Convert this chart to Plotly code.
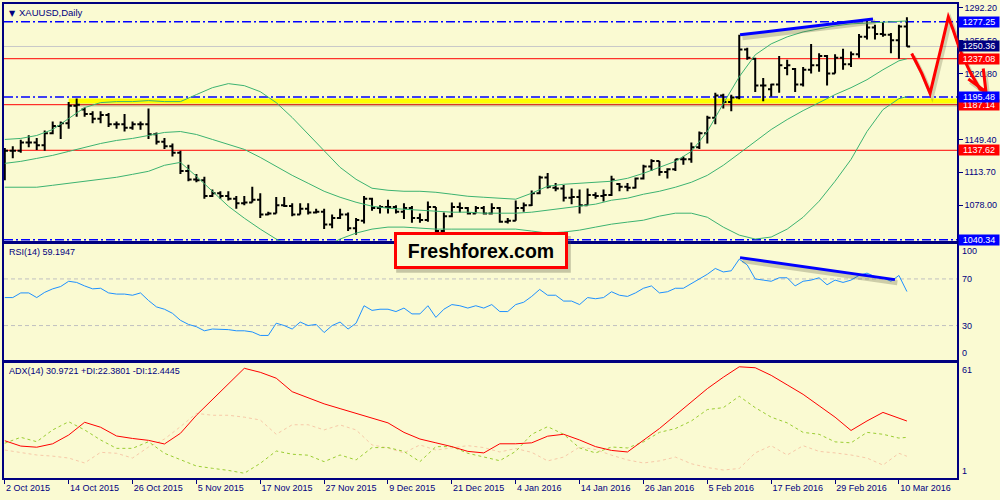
import plotly.graph_objects as go

BG = "#FAFAD2"
NAVY = "#000080"
GREEN = "#3CB371"
FONT = "Liberation Sans"

# ---- data (XAUUSD daily, 2 Oct 2015 .. 11 Mar 2016) ----
X_LABELS = ["2 Oct 2015", "14 Oct 2015", "26 Oct 2015", "5 Nov 2015", "17 Nov 2015",
            "27 Nov 2015", "9 Dec 2015", "21 Dec 2015", "4 Jan 2016", "14 Jan 2016",
            "26 Jan 2016", "5 Feb 2016", "17 Feb 2016", "29 Feb 2016", "10 Mar 2016"]
TICK_BARS = [0, 8, 16, 24, 32, 40, 48, 56, 64, 72, 80, 88, 96, 104, 112]

OPEN = [1114, 1137, 1137, 1146, 1146, 1143, 1156, 1164, 1167, 1186,
        1182, 1177, 1172, 1176, 1166, 1166, 1162, 1166, 1166, 1155,
        1147, 1142, 1135, 1115, 1106, 1105, 1088, 1091, 1088, 1085,
        1080, 1081, 1084, 1068, 1069, 1078, 1077, 1068, 1074, 1070,
        1071, 1057, 1064, 1068, 1053, 1061, 1085, 1075, 1076, 1076,
        1071, 1075, 1064, 1062, 1076, 1050, 1066, 1076, 1075, 1069,
        1075, 1069, 1075, 1060, 1061, 1075, 1078, 1091, 1108, 1097,
        1096, 1086, 1087, 1078, 1089, 1088, 1089, 1101, 1098, 1097,
        1107, 1120, 1126, 1114, 1117, 1128, 1128, 1141, 1156, 1173,
        1197, 1190, 1195, 1247, 1237, 1208, 1204, 1209, 1227, 1226,
        1209, 1225, 1230, 1240, 1221, 1238, 1231, 1242, 1261, 1271,
        1264, 1263, 1257, 1272]
HIGH = [1140, 1142, 1149, 1154, 1151, 1159, 1169, 1169, 1190, 1194,
        1184, 1180, 1180, 1178, 1169, 1177, 1169, 1169, 1183, 1157,
        1151, 1145, 1137, 1122, 1112, 1109, 1095, 1093, 1093, 1088,
        1088, 1098, 1091, 1071, 1087, 1087, 1080, 1080, 1080, 1074,
        1074, 1068, 1074, 1070, 1064, 1088, 1086, 1078, 1084, 1078,
        1080, 1077, 1069, 1082, 1076, 1070, 1081, 1081, 1076, 1077,
        1077, 1080, 1076, 1064, 1083, 1081, 1094, 1110, 1113, 1102,
        1100, 1096, 1095, 1096, 1092, 1095, 1110, 1102, 1102, 1108,
        1122, 1128, 1126, 1118, 1128, 1131, 1146, 1158, 1175, 1200,
        1199, 1198, 1263, 1249, 1238, 1216, 1210, 1240, 1236, 1227,
        1228, 1253, 1243, 1241, 1242, 1248, 1245, 1264, 1280, 1274,
        1277, 1265, 1274, 1282]
LOW = [1105, 1129, 1135, 1141, 1138, 1137, 1155, 1150, 1161, 1174,
       1174, 1167, 1167, 1163, 1161, 1158, 1160, 1160, 1150, 1144,
       1139, 1131, 1112, 1104, 1103, 1085, 1087, 1085, 1083, 1074,
       1078, 1081, 1064, 1067, 1069, 1076, 1066, 1068, 1068, 1069,
       1052, 1053, 1063, 1050, 1046, 1058, 1072, 1069, 1069, 1069,
       1063, 1059, 1059, 1060, 1048, 1047, 1065, 1070, 1068, 1069,
       1068, 1068, 1059, 1058, 1061, 1071, 1077, 1090, 1096, 1093,
       1082, 1079, 1069, 1078, 1085, 1082, 1088, 1093, 1093, 1096,
       1106, 1115, 1110, 1107, 1115, 1122, 1124, 1139, 1145, 1166,
       1183, 1180, 1193, 1236, 1201, 1191, 1196, 1200, 1219, 1201,
       1207, 1221, 1223, 1208, 1221, 1225, 1228, 1238, 1258, 1258,
       1261, 1243, 1237, 1250]
CLOSE = [1137, 1137, 1146, 1146, 1143, 1156, 1164, 1167, 1186, 1187,
         1177, 1172, 1176, 1166, 1166, 1162, 1166, 1166, 1155, 1147,
         1142, 1135, 1115, 1106, 1105, 1088, 1091, 1088, 1085, 1080,
         1081, 1084, 1068, 1069, 1078, 1077, 1068, 1074, 1070, 1071,
         1057, 1064, 1068, 1053, 1062, 1085, 1075, 1076, 1076, 1071,
         1075, 1064, 1062, 1076, 1050, 1066, 1076, 1075, 1069, 1075,
         1069, 1075, 1060, 1061, 1075, 1078, 1091, 1108, 1098, 1096,
         1086, 1087, 1078, 1089, 1088, 1089, 1106, 1098, 1097, 1107,
         1120, 1126, 1114, 1117, 1128, 1128, 1141, 1156, 1173, 1197,
         1190, 1195, 1247, 1238, 1208, 1208, 1209, 1230, 1230, 1209,
         1225, 1230, 1240, 1221, 1238, 1231, 1242, 1261, 1271, 1264,
         1263, 1257, 1272, 1250.36]

# indicator lines sampled every second bar (last bar added)
IND_BARS = list(range(0, 113, 2)) + [113]
BB_UPPER = [1149.4, 1150.5, 1153.7, 1160.2, 1172.1, 1184.0, 1189.4, 1190.5, 1190.5, 1191.6,
            1190.5, 1190.5, 1198.1, 1205.6, 1210.0, 1207.8, 1201.3, 1189.4, 1173.2, 1154.8,
            1136.4, 1119.1, 1106.1, 1096.4, 1094.2, 1093.1, 1093.1, 1092.0, 1089.9, 1087.7,
            1086.6, 1085.5, 1084.5, 1091.0, 1098.6, 1100.7, 1101.8, 1102.9, 1104.0, 1107.2,
            1112.6, 1119.1, 1125.6, 1136.4, 1158.0, 1188.3, 1217.5, 1241.3, 1253.2, 1260.8,
            1266.2, 1269.5, 1272.7, 1274.9, 1276.0, 1277.0, 1278.1, 1278.1]
BB_MIDDLE = [1123.4, 1125.6, 1128.8, 1132.1, 1136.4, 1140.7, 1145.0, 1148.3, 1150.5, 1153.7,
             1157.0, 1158.0, 1154.8, 1149.4, 1144.0, 1138.6, 1129.9, 1120.2, 1110.4, 1101.8,
             1093.1, 1086.6, 1081.2, 1076.9, 1074.7, 1073.6, 1072.6, 1071.5, 1070.4, 1070.4,
             1069.3, 1069.3, 1069.3, 1070.4, 1072.6, 1074.7, 1076.9, 1079.1, 1083.4, 1085.6,
             1089.9, 1093.1, 1097.5, 1102.9, 1110.4, 1121.3, 1134.2, 1147.2, 1160.2, 1171.0,
             1180.7, 1189.4, 1198.1, 1205.6, 1214.3, 1225.1, 1234.8, 1237.0]
BB_LOWER = [1097.5, 1097.5, 1097.5, 1099.6, 1101.8, 1104.0, 1106.1, 1108.3, 1111.5, 1114.8,
            1121.3, 1124.5, 1109.4, 1093.1, 1076.9, 1063.9, 1052.0, 1041.2, 1032.5, 1028.2,
            1032.5, 1041.2, 1047.7, 1052.0, 1054.2, 1054.2, 1053.2, 1052.0, 1052.0, 1052.0,
            1052.0, 1052.0, 1052.0, 1049.9, 1047.7, 1048.8, 1050.9, 1054.2, 1057.4, 1059.6,
            1061.7, 1066.1, 1069.3, 1069.3, 1064.9, 1054.2, 1045.5, 1041.2, 1043.4, 1052.0,
            1064.9, 1082.3, 1104.0, 1127.7, 1158.0, 1181.8, 1193.7, 1195.9]

RSI = [54, 54, 58, 58, 54, 58.5, 61.5, 63.5, 68, 67,
       64, 61.5, 62, 58, 57, 57, 56, 58, 51.5, 46,
       44, 40.5, 34.5, 31, 29, 25.5, 27, 27, 26.5, 25.5,
       25.5, 24.5, 21.5, 21.5, 32, 30, 27, 33, 30, 31,
       24, 30, 33, 27, 32, 47, 43, 44, 44, 42,
       45, 40, 40, 47, 37, 44, 48, 47, 45, 47,
       45, 48, 42, 42, 48, 50, 55, 61, 56, 56,
       51, 51, 48, 54, 53, 54, 59, 56, 55, 58,
       62, 64, 58, 59, 62, 62, 66, 70, 74, 79,
       76, 77, 87, 82, 70, 69, 68, 71, 71, 64,
       68, 69, 71, 65, 69, 67, 69, 73, 75, 72,
       71, 68, 73, 59.19]

ADX = [20.6, 17.8, 17.2, 19.0, 23.6, 30.3, 27.7, 23.1, 21.8, 20.8,
       18.9, 24.5, 34.0, 42.4, 50.5, 58.7, 56.6, 53.5, 46.4, 43.0,
       40.0, 37.5, 35.0, 32.5, 30.0, 25.0, 21.5, 19.5, 17.5, 15.0,
       14.2, 19.0, 19.0, 19.5, 23.0, 24.0, 21.0, 17.5, 15.5, 14.7,
       21.0, 27.0, 34.0, 41.0, 48.0, 54.0, 59.5, 59.0, 55.0, 50.0,
       45.0, 39.0, 33.0, 26.0, 31.0, 35.5, 32.5, 30.97]
PLUS_DI = [19.3, 22.4, 20.1, 26.3, 30.6, 26.3, 21.0, 16.6, 16.6, 20.1,
           14.0, 10.5, 7.3, 6.1, 5.0, 3.5, 8.7, 15.2, 13.5, 13.0,
           9.6, 13.1, 10.5, 17.0, 17.0, 15.0, 9.6, 17.5, 17.5, 14.0,
           12.0, 10.1, 15.0, 24.0, 28.0, 24.0, 16.8, 14.2, 17.3, 16.8,
           20.0, 25.0, 27.0, 31.0, 37.0, 38.0, 44.0, 38.0, 33.0, 30.0,
           25.0, 24.0, 20.0, 19.5, 25.0, 24.0, 22.0, 22.38]
MINUS_DI = [15.7, 14.5, 13.1, 12.5, 11.5, 8.9, 14.5, 14.0, 11.5, 17.3,
            21.5, 28.0, 35.0, 34.0, 34.0, 33.0, 31.5, 24.0, 29.0, 29.0,
            26.3, 28.9, 26.3, 18.4, 16.8, 14.2, 18.4, 15.7, 17.0, 18.0,
            17.0, 14.7, 16.5, 14.5, 10.0, 12.0, 17.3, 16.0, 13.0, 10.5,
            8.9, 10.0, 12.0, 8.5, 6.5, 5.2, 6.0, 14.2, 18.0, 13.1,
            18.0, 15.0, 14.2, 13.1, 11.5, 7.8, 14.0, 12.44]

PRICE_TICKS = [1292.20, 1256.50, 1220.80, 1149.40, 1113.70, 1078.00]
BLUE_LEVELS = [1277.25, 1195.48, 1040.34]
RED_LEVELS = [1237.08, 1187.14, 1137.62]
BID = 1250.36
LABEL_PRICE = [1040.34, 1137.62, 1187.14, 1195.48, 1237.08, 1250.36, 1277.25]
LABEL_BG = ["#0000FF", "#FF0000", "#FF0000", "#0000FF", "#FF0000", "#000080", "#0000FF"]
YELLOW_ZONE = (8, 1188.3, 1194.0)  # start bar, low, high

# hand drawn marks (bar, value)
TREND_PRICE = [(92.1, 1263.0), (108.75, 1280.3)]
TREND_RSI = [(92.1, 88.3), (111.5, 69.4)]
ARROW = [(113.6, 1242.7), (114.24, 1231.9), (114.86, 1221.1), (115.9, 1199.5), (116.5, 1221.1),
         (117.36, 1251.8), (118.19, 1282.4), (118.81, 1268.0), (119.65, 1246.4), (120.9, 1222.9),
         (122.15, 1204.2), (122.9, 1201.3)]
ARROW_HEAD = [(122.56, 1226.5), (122.9, 1201.3), (120.69, 1215.0)]

XR = [-0.1, 119.275]
YR = [1039.1, 1296.5]
BARS = list(range(len(CLOSE)))

fig = go.Figure()

# bollinger bands
for band in (BB_UPPER, BB_MIDDLE, BB_LOWER):
    fig.add_trace(go.Scatter(x=IND_BARS, y=band, mode="lines", xaxis="x", yaxis="y",
                             line=dict(color=GREEN, width=1), hoverinfo="skip"))

fig.add_trace(go.Ohlc(x=BARS, open=OPEN, high=HIGH, low=LOW, close=CLOSE,
                      xaxis="x", yaxis="y", tickwidth=0.4,
                      increasing=dict(line=dict(color="black", width=2)),
                      decreasing=dict(line=dict(color="black", width=2))))

# rsi
fig.add_trace(go.Scatter(x=BARS, y=RSI, mode="lines", xaxis="x2", yaxis="y2",
                         line=dict(color="#1E90FF", width=1)))

# adx
fig.add_trace(go.Scatter(x=IND_BARS, y=MINUS_DI, mode="lines", xaxis="x3", yaxis="y3",
                         line=dict(color="#F7C9A8", width=1, dash="dot")))
fig.add_trace(go.Scatter(x=IND_BARS, y=PLUS_DI, mode="lines", xaxis="x3", yaxis="y3",
                         line=dict(color="#9ACD32", width=1, dash="3px,3px")))
fig.add_trace(go.Scatter(x=IND_BARS, y=ADX, mode="lines", xaxis="x3", yaxis="y3",
                         line=dict(color="#FF0000", width=1)))

# trend lines with a soft drop shadow
for pts, ya, dy in ((TREND_PRICE, "y", -3.2), (TREND_RSI, "y2", -2.6)):
    xs = [p[0] for p in pts]
    ys = [p[1] for p in pts]
    fig.add_trace(go.Scatter(x=[v + 0.3 for v in xs], y=[v + dy for v in ys], mode="lines",
                             xaxis=ya.replace("y", "x"), yaxis=ya,
                             line=dict(color="rgba(90,90,60,0.28)", width=5)))
    fig.add_trace(go.Scatter(x=xs, y=ys, mode="lines", xaxis=ya.replace("y", "x"), yaxis=ya,
                             line=dict(color="#0000FF", width=3)))

shapes = []
# yellow support zone + shadow
shapes.append(dict(type="rect", xref="x", yref="y", x0=YELLOW_ZONE[0] + 0.3, x1=XR[1],
                   y0=YELLOW_ZONE[1] - 3.5, y1=YELLOW_ZONE[1], fillcolor="rgba(80,80,40,0.22)",
                   line=dict(width=0), layer="below"))
shapes.append(dict(type="rect", xref="x", yref="y", x0=YELLOW_ZONE[0], x1=XR[1],
                   y0=YELLOW_ZONE[1], y1=YELLOW_ZONE[2], fillcolor="#FFFF00",
                   line=dict(width=0), layer="below"))
shapes.append(dict(type="line", xref="x domain", yref="y", x0=0, x1=1, y0=BID, y1=BID,
                   line=dict(color="#C8C8C8", width=1), layer="below"))
for lv in RED_LEVELS:
    shapes.append(dict(type="line", xref="x domain", yref="y", x0=0, x1=1, y0=lv, y1=lv,
                       line=dict(color="#FF0000", width=1), layer="below"))
for lv in BLUE_LEVELS:
    shapes.append(dict(type="line", xref="x domain", yref="y", x0=0, x1=1, y0=lv, y1=lv,
                       line=dict(color="#0000FF", width=1.5, dash="9px,3px,2px,3px"), layer="below"))
for lv in (70, 30):
    shapes.append(dict(type="line", xref="x2 domain", yref="y2", x0=0, x1=1, y0=lv, y1=lv,
                       line=dict(color="#C0C0C0", width=1, dash="4px,3px"), layer="below"))


def to_paper(pts, dx=0.0, dy=0.0):
    out = []
    for b, p in pts:
        px = (b - XR[0]) / (XR[1] - XR[0]) + dx
        py = 0.5 + 0.5 * (p - YR[0]) / (YR[1] - YR[0]) + dy
        out.append(f"{px:.5f},{py:.5f}")
    return "M " + " L ".join(out)


# red freehand arrow (runs over the price scale, so paper refs)
for dx, dy, col, w in ((2 / 955, -3 / 476, "rgba(90,90,60,0.25)", 4), (0, 0, "#FF0000", 3)):
    for pts in (ARROW, ARROW_HEAD):
        shapes.append(dict(type="path", xref="paper", yref="paper", path=to_paper(pts, dx, dy),
                           line=dict(color=col, width=w)))

# freshforex box shadow
shapes.append(dict(type="rect", xref="paper", yref="paper",
                   x0=(395 - 2) / 955, x1=(570 - 2) / 955, y0=(478 - 272) / 476, y1=(478 - 235) / 476,
                   fillcolor="rgba(80,80,60,0.3)", line=dict(width=0)))

annotations = []
for p, bg in zip(LABEL_PRICE, LABEL_BG):
    annotations.append(dict(xref="paper", yref="y", x=(958 - 2) / 955, y=p, xanchor="left",
                            yanchor="middle", text=f"{p:.2f}", showarrow=False, bgcolor=bg,
                            width=40, height=10, borderpad=0,
                            font=dict(family=FONT, size=9, color="white")))

for txt, val, anc in (("100", 100, "top"), ("70", 70, "middle"), ("30", 30, "middle"), ("0", 0, "bottom")):
    annotations.append(dict(xref="paper", yref="y2", x=(960 - 2) / 955, y=val, xanchor="left",
                            yanchor=anc, text=txt, showarrow=False,
                            font=dict(family=FONT, size=9, color=NAVY)))
for txt, val, anc in (("61", 61.5, "top"), ("1", 1, "bottom")):
    annotations.append(dict(xref="paper", yref="y3", x=(960 - 2) / 955, y=val, xanchor="left",
                            yanchor=anc, text=txt, showarrow=False,
                            font=dict(family=FONT, size=9, color=NAVY)))

annotations.append(dict(xref="paper", yref="paper", x=(5 - 2) / 955, y=(478 - 5) / 476,
                        xanchor="left", yanchor="top", text="▼", showarrow=False,
                        font=dict(family="DejaVu Sans", size=8, color=NAVY)))
annotations.append(dict(xref="paper", yref="paper", x=(15 - 2) / 955, y=(478 - 3) / 476,
                        xanchor="left", yanchor="top", text="XAUUSD,Daily", showarrow=False,
                        font=dict(family=FONT, size=9.5, color=NAVY)))
annotations.append(dict(xref="paper", yref="y2 domain", x=(5 - 2) / 955, y=1, yshift=-1,
                        xanchor="left", yanchor="top", text="RSI(14) 59.1947", showarrow=False,
                        font=dict(family=FONT, size=9, color=NAVY)))
annotations.append(dict(xref="paper", yref="y3 domain", x=(5 - 2) / 955, y=1, yshift=-1,
                        xanchor="left", yanchor="top",
                        text="ADX(14) 30.9721 +DI:22.3801 -DI:12.4445", showarrow=False,
                        font=dict(family=FONT, size=9, color=NAVY)))
annotations.append(dict(xref="paper", yref="paper", x=(480 - 2) / 955, y=(478 - 250) / 476,
                        xanchor="center", yanchor="middle", text="<b>Freshforex.com</b>",
                        showarrow=False, bgcolor=BG, bordercolor="#FF0000", borderwidth=3,
                        borderpad=3, width=162, height=25,
                        font=dict(family=FONT, size=19.5, color="black")))

frame = dict(showline=True, mirror=True, linecolor=NAVY, linewidth=1.5, showgrid=False,
             zeroline=False)

fig.update_layout(
    width=1000, height=500,
    margin=dict(l=2, r=43, t=2, b=22),
    paper_bgcolor=BG, plot_bgcolor=BG,
    showlegend=False, hovermode=False,
    shapes=shapes, annotations=annotations,
    xaxis=dict(domain=[0, 1], range=XR, anchor="y", showticklabels=False, ticks="",
               rangeslider=dict(visible=False), **frame),
    yaxis=dict(domain=[0.5, 1], range=YR, anchor="x", side="right", ticks="outside",
               ticklen=4, tickcolor=NAVY, tickvals=PRICE_TICKS,
               ticktext=[f"{v:.2f}" for v in PRICE_TICKS],
               tickfont=dict(family=FONT, size=9, color=NAVY), **frame),
    xaxis2=dict(domain=[0, 1], range=XR, anchor="y2", showticklabels=False, ticks="", **frame),
    yaxis2=dict(domain=[(478 - 360) / 476, (478 - 243) / 476], range=[0, 100], anchor="x2",
                side="right", showticklabels=False, ticks="", **frame),
    xaxis3=dict(domain=[0, 1], range=XR, anchor="y3", ticks="outside", ticklen=4,
                tickcolor=NAVY, tickvals=TICK_BARS, ticktext=X_LABELS,
                ticklabelposition="outside right",
                tickfont=dict(family=FONT, size=9, color=NAVY), **frame),
    yaxis3=dict(domain=[0, (478 - 362.5) / 476], range=[1, 61.5], anchor="x3", side="right",
                showticklabels=False, ticks="", **frame),
)

# the page is photographed at 1000x500: drop the default body margin
fig.write_html("out.html", config={"displayModeBar": False},
               post_script="document.body.style.margin='0';document.body.style.overflow='hidden';")
